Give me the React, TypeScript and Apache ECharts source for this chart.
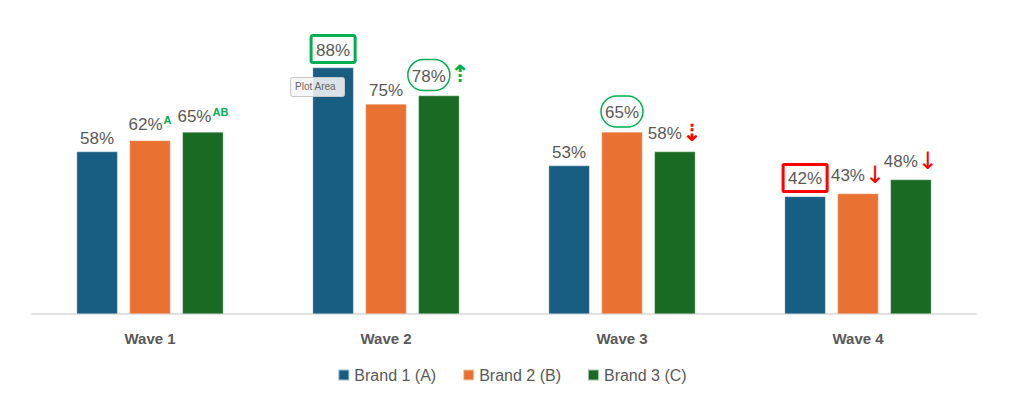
import React, { useEffect, useRef } from "react";
import * as echarts from "echarts";

const categories = ["Wave 1", "Wave 2", "Wave 3", "Wave 4"];
const seriesNames = ["Brand 1 (A)", "Brand 2 (B)", "Brand 3 (C)"];
const brand1 = [58, 88, 53, 42];
const brand2 = [62, 75, 65, 43];
const brand3 = [65, 78, 58, 48];
// significance letters (superscripts)
const sig1 = ["", "", "", ""];
const sig2 = ["A", "", "", ""];
const sig3 = ["AB", "", "", ""];
// highlight: "box" green box, "redbox" red box, "ell" green ellipse
const hl1 = ["", "box", "", "redbox"];
const hl2 = ["", "", "ell", ""];
const hl3 = ["", "ell", "", ""];
// arrows: "upDash", "downDash", "down"
const ar1 = ["", "", "", ""];
const ar2 = ["", "", "", "down"];
const ar3 = ["", "upDash", "downDash", "down"];

const colors = ["#175E82", "#E97132", "#196B24"];
const GREEN = "#00B050";
const RED = "#FF0000";
const TXT = "#595959";
const FONT = "'Liberation Sans', Arial, sans-serif";

const arrowBase = { fontSize: 24, fontFamily: "DejaVu Sans", padding: [0, 0, 2, 0] };
const rich = {
  v: { fontSize: 17, color: TXT, fontFamily: FONT },
  sup: { fontSize: 11, fontWeight: "bold", color: GREEN, fontFamily: FONT, padding: [0, 0, 10, 1] },
  box: {
    fontSize: 17, color: TXT, fontFamily: FONT,
    borderColor: GREEN, borderWidth: 3, borderRadius: 2, padding: [6, 5, 4, 5],
  },
  redbox: {
    fontSize: 17, color: TXT, fontFamily: FONT,
    borderColor: RED, borderWidth: 3, borderRadius: 1, padding: [6, 5, 4, 5],
  },
  ell: {
    fontSize: 17, color: TXT, fontFamily: FONT,
    borderColor: GREEN, borderWidth: 1.5, borderRadius: 16, padding: [8, 4, 6, 4],
  },
  upDash: { ...arrowBase, color: GREEN, fontWeight: "bold" },
  downDash: { ...arrowBase, color: RED, fontWeight: "bold" },
  down: { ...arrowBase, color: RED },
};

const arrowChar: Record<string, string> = { upDash: "⇡", downDash: "⇣", down: "↓" };

function buildData(values: number[], sig: string[], hl: string[], ar: string[]) {
  return values.map((v, i) => {
    const style = hl[i] || "v";
    let f = `{${style}|${v}%}`;
    if (sig[i]) f += `{sup|${sig[i]}}`;
    if (ar[i]) f += `{${ar[i]}|${arrowChar[ar[i]]}}`;
    return { value: v, label: { formatter: f } };
  });
}

export default function App() {
  const ref = useRef<HTMLDivElement>(null);
  useEffect(() => {
    document.body.style.margin = "0";
    const chart = echarts.init(ref.current!, null, { renderer: "svg" });
    const datasets = [
      buildData(brand1, sig1, hl1, ar1),
      buildData(brand2, sig2, hl2, ar2),
      buildData(brand3, sig3, hl3, ar3),
    ];
    chart.setOption({
      animation: false,
      color: colors,
      grid: { left: 32, right: 48, top: 34, bottom: 84 },
      legend: {
        top: 362,
        left: "center",
        icon: "rect",
        itemWidth: 11,
        itemHeight: 11,
        itemGap: 26,
        textStyle: { fontSize: 16, color: TXT, fontFamily: FONT },
        data: seriesNames,
      },
      xAxis: {
        type: "category",
        data: categories,
        axisTick: { show: false },
        axisLine: { lineStyle: { color: "#D9D9D9", width: 1.5 } },
        axisLabel: { fontSize: 15, fontWeight: "bold", color: TXT, fontFamily: FONT, margin: 17 },
      },
      yAxis: { type: "value", min: 0, max: 100, show: false, splitLine: { show: false } },
      series: datasets.map((d, i) => ({
        name: seriesNames[i],
        type: "bar",
        barWidth: 41,
        barGap: "29%",
        data: d,
        itemStyle: { borderColor: "rgba(255,255,255,0.6)", borderWidth: 0.5 },
        label: { show: true, position: "top", distance: 5, rich },
      })),
      graphic: [
        {
          type: "rect",
          left: 290,
          top: 77,
          z: 1000,
          zlevel: 1,
          shape: { x: 0, y: 0, width: 54, height: 19, r: 2 },
          style: { fill: "rgba(245,245,245,0.88)", stroke: "#C8C8C8", lineWidth: 1 },
        },
        {
          type: "text",
          left: 295,
          top: 81,
          z: 1001,
          zlevel: 1,
          style: { text: "Plot Area", fontSize: 10, fill: "#666666", fontFamily: FONT },
        },
      ],
    });
    return () => chart.dispose();
  }, []);
  return <div ref={ref} style={{ width: 1024, height: 398 }} />;
}
